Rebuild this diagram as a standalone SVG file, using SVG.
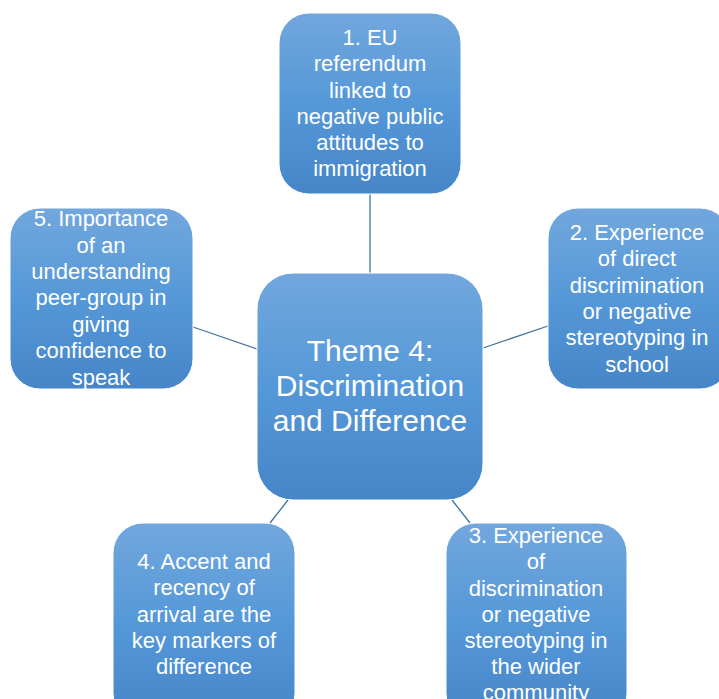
<svg xmlns="http://www.w3.org/2000/svg" width="719" height="699" viewBox="0 0 719 699">
<defs>
<linearGradient id="g" x1="0" y1="0" x2="0" y2="1">
<stop offset="0" stop-color="#72a7dd"/>
<stop offset="0.5" stop-color="#5598d8"/>
<stop offset="1" stop-color="#4585c8"/>
</linearGradient>
<style>
.box{fill:url(#g);stroke:#ffffff;stroke-width:1}
.t{font-family:"Liberation Sans",Arial,sans-serif;font-size:22px;fill:#ffffff;text-anchor:middle}
.c{font-family:"Liberation Sans",Arial,sans-serif;font-size:30px;fill:#ffffff;text-anchor:middle}
.ln{stroke:#41719c;stroke-width:1.3;fill:none}
</style>
</defs>
<rect width="719" height="699" fill="#ffffff"/>
<g id="connectors">
<line class="ln" x1="370" y1="193" x2="370" y2="273"/>
<line class="ln" x1="483" y1="348" x2="548" y2="326"/>
<line class="ln" x1="193" y1="327" x2="257" y2="349"/>
<line class="ln" x1="270" y1="523" x2="288" y2="500"/>
<line class="ln" x1="470" y1="523" x2="452" y2="500"/>
</g>
<g id="center">
<rect class="box" x="257" y="273" width="226" height="227" rx="36"/>
<text class="c" x="370" y="361">Theme 4:</text>
<text class="c" x="370" y="396">Discrimination</text>
<text class="c" x="370" y="431">and Difference</text>
</g>
<g id="n1">
<rect class="box" x="279" y="13" width="182" height="181" rx="30"/>
<text class="t" x="370" y="45">1. EU</text>
<text class="t" x="370" y="71">referendum</text>
<text class="t" x="370" y="98">linked to</text>
<text class="t" x="370" y="124">negative public</text>
<text class="t" x="370" y="150">attitudes to</text>
<text class="t" x="370" y="176">immigration</text>
</g>
<g id="n2">
<rect class="box" x="548" y="208" width="182" height="181" rx="30"/>
<text class="t" x="637" y="240">2. Experience</text>
<text class="t" x="637" y="266">of direct</text>
<text class="t" x="637" y="293">discrimination</text>
<text class="t" x="637" y="319">or negative</text>
<text class="t" x="637" y="345">stereotyping in</text>
<text class="t" x="637" y="372">school</text>
</g>
<g id="n3">
<rect class="box" x="446" y="523" width="181" height="200" rx="30"/>
<text class="t" x="536" y="543">3. Experience</text>
<text class="t" x="536" y="569">of</text>
<text class="t" x="536" y="596">discrimination</text>
<text class="t" x="536" y="622">or negative</text>
<text class="t" x="536" y="648">stereotyping in</text>
<text class="t" x="536" y="674">the wider</text>
<text class="t" x="536" y="700">community</text>
</g>
<g id="n4">
<rect class="box" x="113" y="523" width="182" height="200" rx="30"/>
<text class="t" x="204" y="569">4. Accent and</text>
<text class="t" x="204" y="595">recency of</text>
<text class="t" x="204" y="622">arrival are the</text>
<text class="t" x="204" y="648">key markers of</text>
<text class="t" x="204" y="674">difference</text>
</g>
<g id="n5">
<rect class="box" x="10" y="208" width="183" height="181" rx="30"/>
<text class="t" x="101" y="226">5. Importance</text>
<text class="t" x="101" y="253">of an</text>
<text class="t" x="101" y="279">understanding</text>
<text class="t" x="101" y="305">peer-group in</text>
<text class="t" x="101" y="332">giving</text>
<text class="t" x="101" y="358">confidence to</text>
<text class="t" x="101" y="385">speak</text>
</g>
</svg>
